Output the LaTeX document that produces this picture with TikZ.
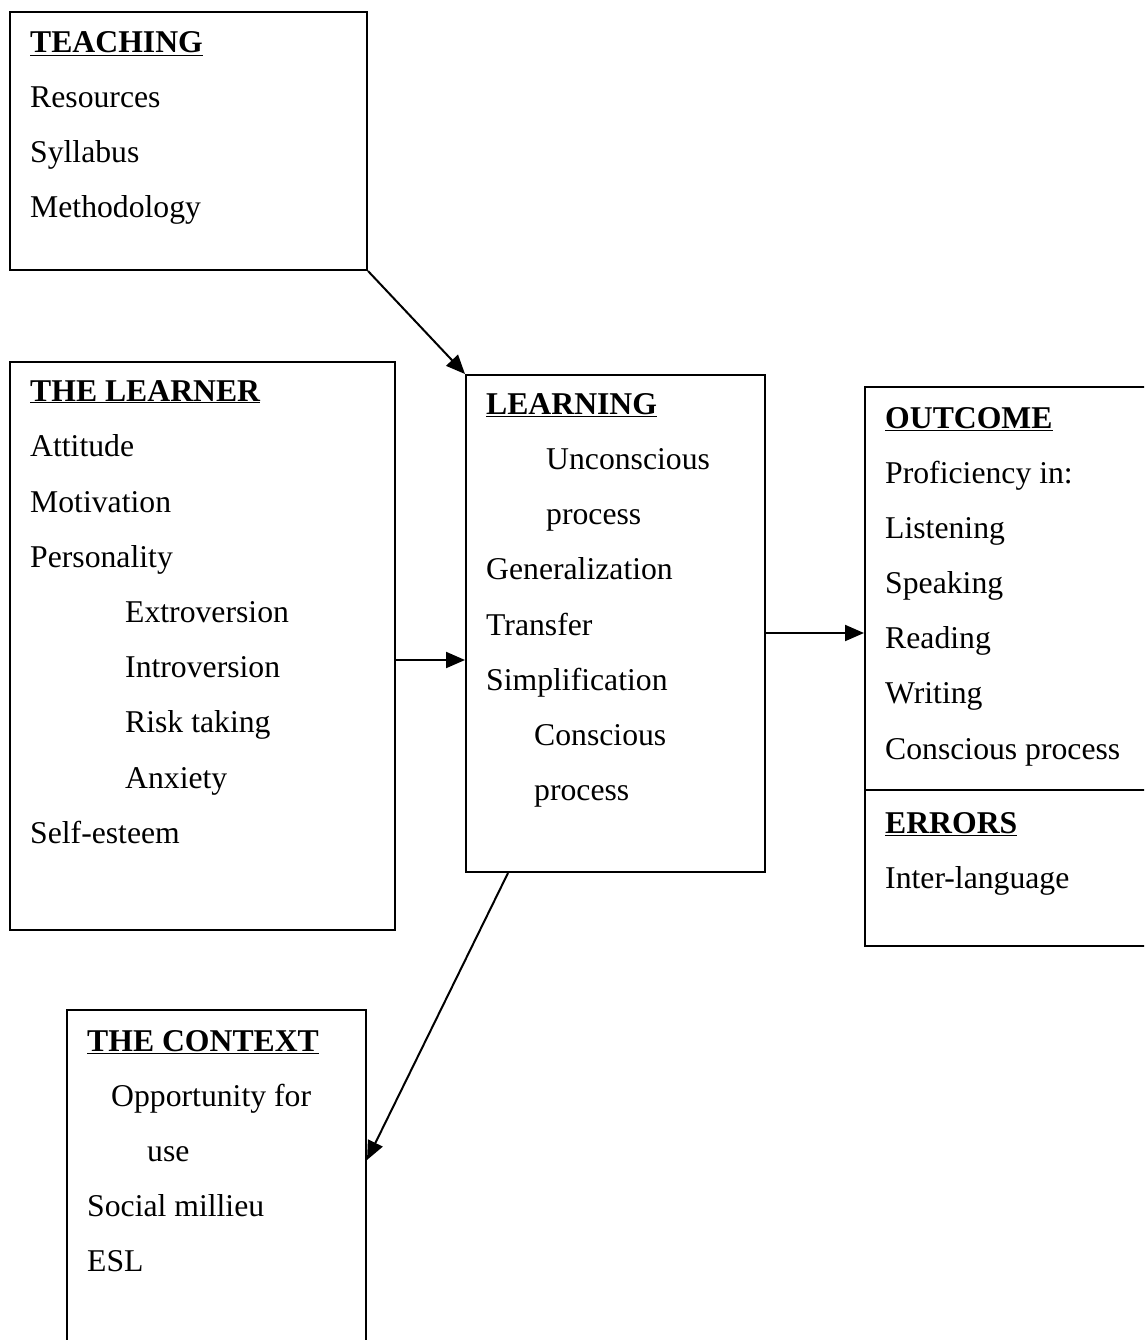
\documentclass[tikz,border=0pt]{standalone}
\usepackage{fontspec}
\setmainfont{Liberation Serif}
\usepackage{tikz}
\usetikzlibrary{positioning}
\usetikzlibrary{arrows.meta}

\newcommand{\hd}[1]{\textbf{\underline{#1}}}

\begin{document}
\begin{tikzpicture}[x=1pt, y=-1pt,
    font=\fontsize{31.7}{38}\selectfont,
    box/.style={draw=black, line width=2pt, inner sep=0pt},
    txt/.style={anchor=base west, inner sep=0pt},
    arr/.style={-{Triangle[length=19pt,width=16pt]}, line width=2pt}]
    \useasboundingbox (0,0) rectangle (1144,1340);
    \clip (0,0) rectangle (1144,1340);
    % boxes
    \node[box, minimum width=357pt, minimum height=258pt] (teach) at (188.5,141) {};
    \node[box, minimum width=385pt, minimum height=568pt] (learner) at (202.5,646) {};
    \node[box, minimum width=299pt, minimum height=497pt] (learn) at (615.5,623.5) {};
    \node[box, minimum width=290pt, minimum height=559pt] (outcome) at (1010,666.5) {};
    \node[box, minimum width=299pt, minimum height=340pt] (context) at (216.5,1180) {};
    \draw[line width=2pt] (outcome.west |- 0,790) -- (outcome.east |- 0,790);
    % teaching
    \node[txt] (t0) at (30,53) {\hd{TEACHING}};
    \node[txt] (t1) at (30,108) {Resources};
    \node[txt] (t2) at (30,163) {Syllabus};
    \node[txt] (t3) at (30,218) {Methodology};
    % learner
    \node[txt] (l0) at (30,401) {\hd{THE LEARNER}};
    \node[txt] (l1) at (30,456) {Attitude};
    \node[txt] (l2) at (30,512) {Motivation};
    \node[txt] (l3) at (30,567) {Personality};
    \node[txt] (l4) at (125,622) {Extroversion};
    \node[txt] (l5) at (125,677) {Introversion};
    \node[txt] (l6) at (125,732) {Risk taking};
    \node[txt] (l7) at (125,788) {Anxiety};
    \node[txt] (l8) at (30,843) {Self-esteem};
    % learning
    \node[txt] (g0) at (486,414) {\hd{LEARNING}};
    \node[txt] (g1) at (546,469) {Unconscious};
    \node[txt] (g2) at (546,524) {process};
    \node[txt] (g3) at (486,579) {Generalization};
    \node[txt] (g4) at (486,635) {Transfer};
    \node[txt] (g5) at (486,690) {Simplification};
    \node[txt] (g6) at (534,745) {Conscious};
    \node[txt] (g7) at (534,800) {process};
    % outcome
    \node[txt] (o0) at (885,428) {\hd{OUTCOME}};
    \node[txt] (o1) at (885,483) {Proficiency in:};
    \node[txt] (o2) at (885,538) {Listening};
    \node[txt] (o3) at (885,593) {Speaking};
    \node[txt] (o4) at (885,648) {Reading};
    \node[txt] (o5) at (885,703) {Writing};
    \node[txt] (o6) at (885,759) {Conscious process};
    \node[txt] (e0) at (885,833) {\hd{ERRORS}};
    \node[txt] (e1) at (885,888) {Inter-language};
    % context
    \node[txt] (c0) at (87,1051) {\hd{THE CONTEXT}};
    \node[txt] (c1) at (111,1106) {Opportunity for};
    \node[txt] (c2) at (147,1161) {use};
    \node[txt] (c3) at (87,1216) {Social millieu};
    \node[txt] (c4) at (87,1271) {ESL};
    % arrows
    \draw[arr] (teach.south east) -- (learn.north west);
    \draw[arr] (learner.east |- 0,660) -- (learn.west |- 0,660);
    \draw[arr] (learn.east |- 0,633) -- (outcome.west |- 0,633);
    \draw[arr] (learn.south -| 508,0) -- (context.east |- 0,1160);
\end{tikzpicture}
\end{document}
